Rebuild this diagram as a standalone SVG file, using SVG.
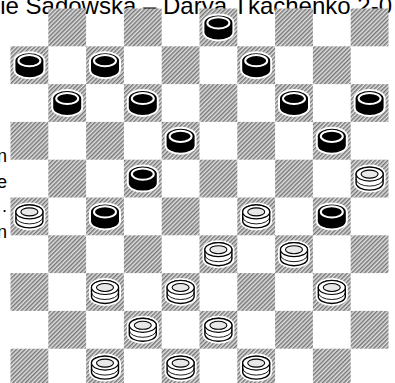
<svg xmlns="http://www.w3.org/2000/svg" xmlns:xlink="http://www.w3.org/1999/xlink" width="395" height="383" viewBox="0 0 395 383">
<style>
.t{font-family:"Liberation Sans",Arial,sans-serif;fill:#000}
.dk{fill:url(#hatch)}
</style>
<defs>
<pattern id="hatch" patternUnits="userSpaceOnUse" width="3" height="3" patternTransform="rotate(45)">
<rect width="3" height="3" fill="#e2e2e2"/>
<rect width="1.5" height="3" fill="#777"/>
</pattern>
<symbol id="bp" overflow="visible">
<path d="M-14,-4.5 A14,7.5 0 0 1 14,-4.5 L14,4.5 A14,7.5 0 0 1 -14,4.5 Z" fill="#fff" stroke="#fff" stroke-width="4"/>
<path d="M-14,-4.5 A14,7.5 0 0 1 14,-4.5 L14,4.5 A14,7.5 0 0 1 -14,4.5 Z" fill="#000"/>
<ellipse cx="0" cy="-4.5" rx="11" ry="5.6" fill="#000" stroke="#fff" stroke-width="2"/>
</symbol>
<symbol id="wp" overflow="visible">
<path d="M-14,-4.5 A14,7.5 0 0 1 14,-4.5 L14,4.5 A14,7.5 0 0 1 -14,4.5 Z" fill="#fff" stroke="#fff" stroke-width="4"/>
<path d="M-13.5,-4.5 A13.5,7 0 0 1 13.5,-4.5 L13.5,4.5 A13.5,7 0 0 1 -13.5,4.5 Z" fill="#fff" stroke="#000" stroke-width="1.4"/>
<ellipse cx="0" cy="-4.5" rx="13.5" ry="7" fill="#fff" stroke="#000" stroke-width="1.2"/>
<ellipse cx="0" cy="-4.5" rx="8.5" ry="4" fill="#e8e8e8" stroke="#000" stroke-width="1.1"/>
<path d="M-13.5,0.5 A13.5,7 0 0 0 13.5,0.5" fill="none" stroke="#000" stroke-width="0.9"/>
</symbol>
</defs>
<rect width="395" height="383" fill="#fff"/>
<text class="t" x="392" y="14" font-size="24" text-anchor="end">ie Sadowska – Darya Tkachenko 2-0</text>
<g class="t" font-size="18" text-anchor="end">
<text x="7" y="162">n</text>
<text x="7" y="188">e</text>
<text x="7" y="212">.</text>
<text x="7" y="238">n</text>
</g>
<g id="board">
<g class="dk">
<rect x="48.3" y="8.5" width="37.8" height="37.8"/><rect x="123.9" y="8.5" width="37.8" height="37.8"/><rect x="199.5" y="8.5" width="37.8" height="37.8"/><rect x="275.1" y="8.5" width="37.8" height="37.8"/><rect x="350.7" y="8.5" width="37.8" height="37.8"/>
<rect x="10.5" y="46.3" width="37.8" height="37.8"/><rect x="86.1" y="46.3" width="37.8" height="37.8"/><rect x="161.7" y="46.3" width="37.8" height="37.8"/><rect x="237.3" y="46.3" width="37.8" height="37.8"/><rect x="312.9" y="46.3" width="37.8" height="37.8"/>
<rect x="48.3" y="84.1" width="37.8" height="37.8"/><rect x="123.9" y="84.1" width="37.8" height="37.8"/><rect x="199.5" y="84.1" width="37.8" height="37.8"/><rect x="275.1" y="84.1" width="37.8" height="37.8"/><rect x="350.7" y="84.1" width="37.8" height="37.8"/>
<rect x="10.5" y="121.9" width="37.8" height="37.8"/><rect x="86.1" y="121.9" width="37.8" height="37.8"/><rect x="161.7" y="121.9" width="37.8" height="37.8"/><rect x="237.3" y="121.9" width="37.8" height="37.8"/><rect x="312.9" y="121.9" width="37.8" height="37.8"/>
<rect x="48.3" y="159.7" width="37.8" height="37.8"/><rect x="123.9" y="159.7" width="37.8" height="37.8"/><rect x="199.5" y="159.7" width="37.8" height="37.8"/><rect x="275.1" y="159.7" width="37.8" height="37.8"/><rect x="350.7" y="159.7" width="37.8" height="37.8"/>
<rect x="10.5" y="197.5" width="37.8" height="37.8"/><rect x="86.1" y="197.5" width="37.8" height="37.8"/><rect x="161.7" y="197.5" width="37.8" height="37.8"/><rect x="237.3" y="197.5" width="37.8" height="37.8"/><rect x="312.9" y="197.5" width="37.8" height="37.8"/>
<rect x="48.3" y="235.3" width="37.8" height="37.8"/><rect x="123.9" y="235.3" width="37.8" height="37.8"/><rect x="199.5" y="235.3" width="37.8" height="37.8"/><rect x="275.1" y="235.3" width="37.8" height="37.8"/><rect x="350.7" y="235.3" width="37.8" height="37.8"/>
<rect x="10.5" y="273.1" width="37.8" height="37.8"/><rect x="86.1" y="273.1" width="37.8" height="37.8"/><rect x="161.7" y="273.1" width="37.8" height="37.8"/><rect x="237.3" y="273.1" width="37.8" height="37.8"/><rect x="312.9" y="273.1" width="37.8" height="37.8"/>
<rect x="48.3" y="310.9" width="37.8" height="37.8"/><rect x="123.9" y="310.9" width="37.8" height="37.8"/><rect x="199.5" y="310.9" width="37.8" height="37.8"/><rect x="275.1" y="310.9" width="37.8" height="37.8"/><rect x="350.7" y="310.9" width="37.8" height="37.8"/>
<rect x="10.5" y="348.7" width="37.8" height="37.8"/><rect x="86.1" y="348.7" width="37.8" height="37.8"/><rect x="161.7" y="348.7" width="37.8" height="37.8"/><rect x="237.3" y="348.7" width="37.8" height="37.8"/><rect x="312.9" y="348.7" width="37.8" height="37.8"/>
</g>
</g>
<g id="black-pieces">
<use xlink:href="#bp" x="218.4" y="27.4"/>
<use xlink:href="#bp" x="29.4" y="65.2"/>
<use xlink:href="#bp" x="105" y="65.2"/>
<use xlink:href="#bp" x="256.2" y="65.2"/>
<use xlink:href="#bp" x="67.2" y="103"/>
<use xlink:href="#bp" x="142.8" y="103"/>
<use xlink:href="#bp" x="294" y="103"/>
<use xlink:href="#bp" x="369.6" y="103"/>
<use xlink:href="#bp" x="180.6" y="140.8"/>
<use xlink:href="#bp" x="331.8" y="140.8"/>
<use xlink:href="#bp" x="142.8" y="178.6"/>
<use xlink:href="#bp" x="105" y="216.4"/>
<use xlink:href="#bp" x="331.8" y="216.4"/>
</g>
<g id="white-pieces">
<use xlink:href="#wp" x="369.6" y="178.6"/>
<use xlink:href="#wp" x="29.4" y="216.4"/>
<use xlink:href="#wp" x="256.2" y="216.4"/>
<use xlink:href="#wp" x="218.4" y="254.2"/>
<use xlink:href="#wp" x="294" y="254.2"/>
<use xlink:href="#wp" x="105" y="292"/>
<use xlink:href="#wp" x="180.6" y="292"/>
<use xlink:href="#wp" x="331.8" y="292"/>
<use xlink:href="#wp" x="142.8" y="329.8"/>
<use xlink:href="#wp" x="218.4" y="329.8"/>
<use xlink:href="#wp" x="105" y="367.6"/>
<use xlink:href="#wp" x="180.6" y="367.6"/>
<use xlink:href="#wp" x="256.2" y="367.6"/>
</g>
<g id="connectors"/>
</svg>
